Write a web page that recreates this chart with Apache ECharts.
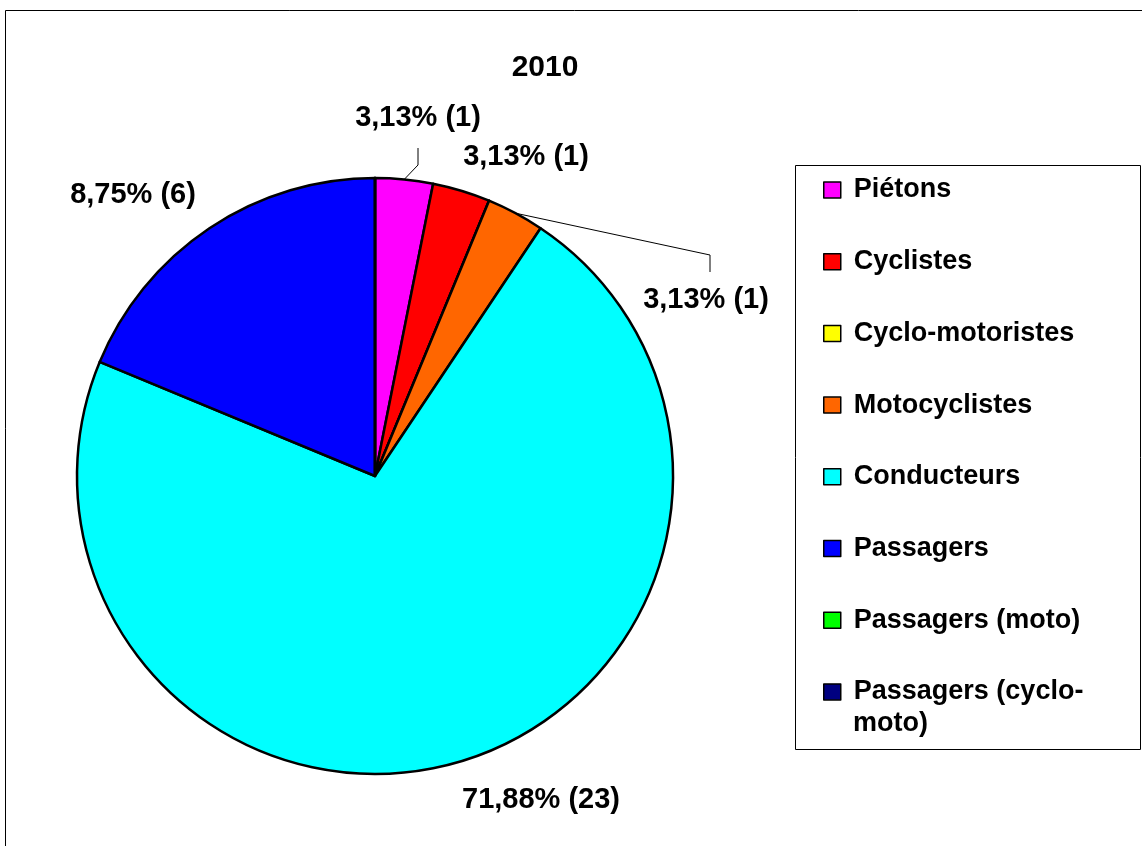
<!DOCTYPE html>
<html>
<head>
<meta charset="utf-8">
<title>2010</title>
<script src="https://cdn.jsdelivr.net/npm/echarts@6/dist/echarts.min.js"></script>
<style>
  html, body { margin: 0; padding: 0; background: #fff; }
  #chart { width: 1142px; height: 846px; }
</style>
</head>
<body>
<div id="chart"></div>
<script>
// données
var categories = ['Piétons', 'Cyclistes', 'Cyclo-motoristes', 'Motocyclistes', 'Conducteurs', 'Passagers', 'Passagers (moto)', 'Passagers (cyclo-moto)'];
var values = [1, 1, 0, 1, 23, 6, 0, 0];
var labelTexts = ['3,13% (1)', '3,13% (1)', '', '3,13% (1)', '71,88% (23)', '8,75% (6)', '', ''];
var colors = ['#FF00FF', '#FF0000', '#FFFF00', '#FF6600', '#00FFFF', '#0000FF', '#00FF00', '#000080'];

// placement des étiquettes (centre du texte) et lignes de rappel
var labelPos = [[418, 118], [526, 157], null, [706, 300], [541, 800], [133, 195], null, null];
var showLeader = [true, false, false, true, false, false, false, false];

var chart = echarts.init(document.getElementById('chart'));

var pieData = [];
for (var i = 0; i < categories.length; i++) {
  pieData.push({
    name: categories[i],
    value: values[i],
    itemStyle: { color: colors[i] },
    label: { show: values[i] > 0 },
    labelLine: { show: showLeader[i] }
  });
}

var fontFam = 'Liberation Sans';

var option = {
  animation: false,
  title: {
    text: '2010',
    left: 540,
    top: 48,
    textAlign: 'center',
    textStyle: { fontFamily: fontFam, fontWeight: 'bold', fontSize: 30, color: '#000' }
  },
  graphic: [
    { type: 'rect', shape: { x: 5.5, y: 10.5, width: 1150, height: 850 }, style: { fill: null, stroke: '#000', lineWidth: 1 }, z: -1 },
    { type: 'rect', shape: { x: 795.5, y: 165.5, width: 345, height: 584 }, style: { fill: '#fff', stroke: '#000', lineWidth: 1 }, z: -1 },
    // suite du dernier libellé de la légende
    { type: 'text', x: 853, y: 724, style: { text: 'moto)', font: 'bold 27px "Liberation Sans"', fill: '#000', verticalAlign: 'middle' } }
  ],
  legend: {
    orient: 'vertical',
    left: 823,
    top: 174,
    padding: 0,
    itemGap: 39.7,
    itemWidth: 17,
    itemHeight: 16,
    icon: 'rect',
    data: categories,
    itemStyle: { borderColor: '#000', borderWidth: 1.5 },
    formatter: function (name) {
      if (name === 'Passagers (cyclo-moto)') return 'Passagers (cyclo-';
      return name;
    },
    textStyle: { fontFamily: fontFam, fontWeight: 'bold', fontSize: 27, lineHeight: 32, color: '#000', padding: [0, 0, 0, 8] }
  },
  series: [{
    type: 'pie',
    center: [375, 476],
    radius: 298,
    startAngle: 90,
    clockwise: true,
    avoidLabelOverlap: false,
    stillShowZeroSum: true,
    itemStyle: { borderColor: '#000', borderWidth: 2.5 },
    emphasis: { disabled: true },
    label: {
      position: 'outside',
      formatter: function (p) { return labelTexts[p.dataIndex]; },
      fontFamily: fontFam,
      fontWeight: 'bold',
      fontSize: 29,
      color: '#000'
    },
    labelLine: { lineStyle: { color: '#000', width: 1 }, length: 15, length2: 15 },
    labelLayout: function (params) {
      var pos = labelPos[params.dataIndex];
      if (!pos) return {};
      var out = { x: pos[0], y: pos[1], align: 'center', verticalAlign: 'middle' };
      if (params.labelLinePoints && showLeader[params.dataIndex]) {
        var p0 = params.labelLinePoints[0];
        if (pos[1] < p0[1]) {
          out.labelLinePoints = [p0, [pos[0], pos[1] + 47], [pos[0], pos[1] + 30]];
        } else {
          out.labelLinePoints = [p0, [pos[0] + 4, pos[1] - 45], [pos[0] + 4, pos[1] - 28]];
        }
      }
      return out;
    },
    data: pieData
  }]
};

chart.setOption(option);
</script>
</body>
</html>
